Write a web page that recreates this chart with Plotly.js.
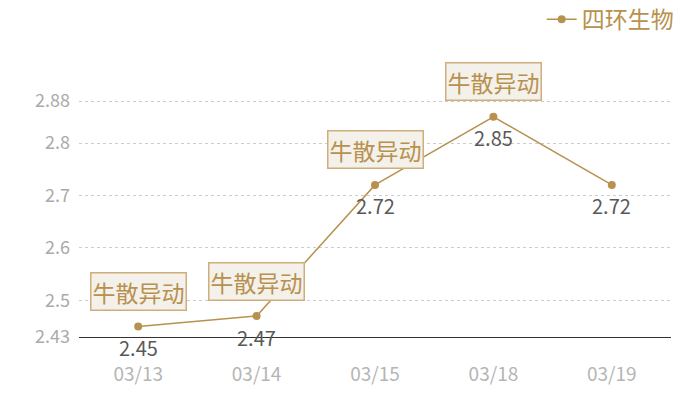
<!DOCTYPE html>
<html>
<head>
<meta charset="utf-8">
<script src="https://cdn.plot.ly/plotly-3.0.1.min.js"></script>
<style>
  html, body { margin: 0; padding: 0; background: #fff; }
  #chart { width: 700px; height: 400px; }
</style>
</head>
<body>
<div id="chart"></div>
<script>
const dates = ['03/13', '03/14', '03/15', '03/18', '03/19'];
const prices = [2.45, 2.47, 2.72, 2.85, 2.72];
const notes = ['牛散异动', '牛散异动', '牛散异动', '牛散异动', ''];
const yTicks = [2.43, 2.5, 2.6, 2.7, 2.8, 2.88];
const seriesName = '四环生物';

const gold = '#b8914f';
const font = '"Noto Sans CJK SC", "Noto Sans", sans-serif';

let data = [{
	x: dates,
	y: prices,
	mode: 'lines+markers',
	name: seriesName,
	line: {color: gold, width: 1.5},
	marker: {color: gold, size: 8},
	cliponaxis: false
}];

let annotations = [];
// value labels under each point
prices.forEach((v, i) => {
	annotations.push({
		x: dates[i],
		y: v,
		xref: 'x',
		yref: 'y',
		text: v.toFixed(2),
		showarrow: false,
		yanchor: 'middle',
		yshift: -21,
		font: {size: 20, color: '#595959', family: font}
	});
});
// event notes above points
notes.forEach((n, i) => {
	if (!n) return;
	annotations.push({
		x: dates[i],
		y: prices[i],
		xref: 'x',
		yref: 'y',
		text: n,
		showarrow: true,
		arrowcolor: 'rgba(0,0,0,0)',
		arrowhead: 0,
		ax: 0,
		ay: -35,
		font: {size: 23, color: '#b8914f', family: font},
		bgcolor: '#f4f0ea',
		bordercolor: '#cfae7c',
		borderwidth: 1.5,
		borderpad: 1
	});
});

let layout = {
	width: 700,
	height: 400,
	margin: {l: 79, r: 29, t: 100, b: 63, autoexpand: false},
	paper_bgcolor: '#fff',
	plot_bgcolor: '#fff',
	font: {family: font},
	showlegend: true,
	legend: {
		x: 1.013,
		y: 1.34,
		xanchor: 'right',
		yanchor: 'middle',
		font: {size: 23, color: gold, family: font},
		itemwidth: 30
	},
	xaxis: {
		type: 'category',
		range: [-0.5, 4.5],
		showgrid: false,
		showline: true,
		linecolor: '#333',
		linewidth: 1,
		ticks: '',
		tickfont: {size: 19, color: '#b5b5b5', family: font},
		ticklabelstandoff: 20,
		zeroline: false,
		fixedrange: true
	},
	yaxis: {
		range: [2.43, 2.882],
		tickvals: yTicks,
		ticktext: yTicks.map(String),
		showgrid: true,
		gridcolor: '#ccc',
		griddash: 'dot',
		gridwidth: 1,
		showline: false,
		zeroline: false,
		ticks: '',
		tickfont: {size: 18, color: '#aaa', family: font},
		ticklabelstandoff: 8,
		fixedrange: true
	},
	annotations: annotations
};

Plotly.newPlot('chart', data, layout, {displayModeBar: false, staticPlot: true});
</script>
</body>
</html>
